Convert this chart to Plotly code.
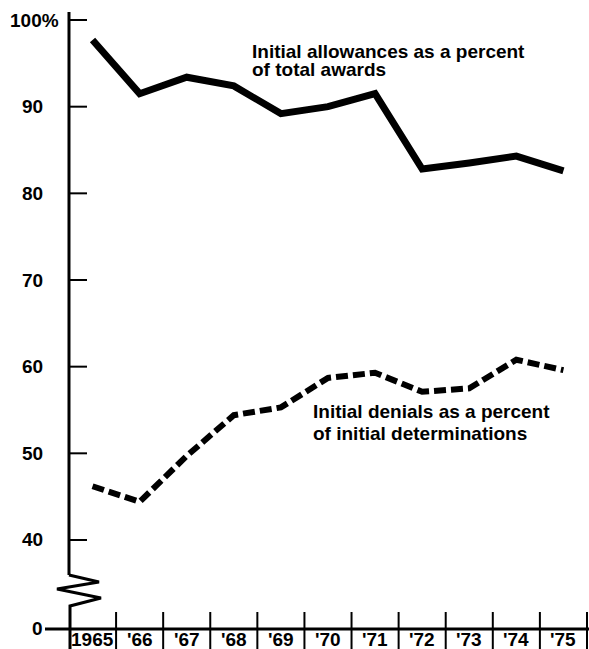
import plotly.graph_objects as go

# ---------------- data ----------------
years = ["1965", "'66", "'67", "'68", "'69", "'70", "'71", "'72", "'73", "'74", "'75"]
allowances_pct = [97.7, 91.5, 93.4, 92.4, 89.2, 90.0, 91.5, 82.8, 83.5, 84.3, 82.6]
denials_pct = [46.2, 44.4, 49.7, 54.4, 55.3, 58.7, 59.3, 57.1, 57.5, 60.8, 59.6]
y_tick_values = [40, 50, 60, 70, 80, 90, 100]
y_tick_labels = ["40", "50", "60", "70", "80", "90", "100%"]

# ---------------- layout geometry ----------------
W, H = 589, 649
ZERO_POS = 29.73          # where the broken axis draws "0"
X_RANGE = [-1.965, 10.543]
Y_RANGE = [27.42, 102.31]

def px2x(px):
    return X_RANGE[0] + px / W * (X_RANGE[1] - X_RANGE[0])

def py2y(py):
    return Y_RANGE[1] - py / H * (Y_RANGE[1] - Y_RANGE[0])

FONT = dict(family="Liberation Sans, Arial, Helvetica, sans-serif", size=19, color="black", weight=700)
idx = list(range(len(years)))

fig = go.Figure()
fig.add_trace(go.Scatter(x=idx, y=allowances_pct, mode="lines",
                         line=dict(color="black", width=7), hoverinfo="skip"))
fig.add_trace(go.Scatter(x=idx, y=denials_pct, mode="lines",
                         line=dict(color="black", width=6, dash="12px,5px"), hoverinfo="skip"))

shapes = []
ax_x = -0.5
# y axis (upper part)
shapes.append(dict(type="line", x0=ax_x, x1=ax_x, y0=py2y(12), y1=py2y(575),
                   line=dict(color="black", width=3)))
# zigzag break
zig = [(69, 575), (99, 582), (57, 589), (101, 598), (70, 606), (70, 649)]
path = "M " + " L ".join(f"{px2x(a)},{py2y(b)}" for a, b in zig)
shapes.append(dict(type="path", path=path, line=dict(color="black", width=3)))
# y ticks
for v in y_tick_values:
    shapes.append(dict(type="line", x0=ax_x, x1=px2x(87), y0=v, y1=v,
                       line=dict(color="black", width=2)))
# baseline
shapes.append(dict(type="line", x0=px2x(45), x1=X_RANGE[1], y0=ZERO_POS, y1=ZERO_POS,
                   line=dict(color="black", width=3)))
# year separators
for i in range(1, len(years) + 1):
    xb = i - 0.5
    shapes.append(dict(type="line", x0=xb, x1=xb, y0=py2y(612), y1=Y_RANGE[0],
                       line=dict(color="black", width=2)))

ann = []
for v, t in zip(y_tick_values, y_tick_labels):
    if t.endswith("%"):
        ann.append(dict(x=8 / W, xref="paper", y=v, yref="y", text=t, showarrow=False,
                        xanchor="left", yanchor="middle", font=FONT))
    else:
        ann.append(dict(x=45 / W, xref="paper", y=v, yref="y", text=t, showarrow=False,
                        xanchor="right", yanchor="middle", font=FONT))
ann.append(dict(x=45 / W, xref="paper", y=ZERO_POS, yref="y", text="0", showarrow=False,
                xanchor="right", yanchor="middle", font=FONT))
for i, t in zip(idx, years):
    ann.append(dict(x=i, xref="x", y=py2y(639), yref="y", text=t, showarrow=False,
                    xanchor="center", yanchor="middle", font=FONT))

labels = [
    ("Initial allowances as a percent", 250, 51.5),
    ("of total awards", 250, 69.5),
    ("Initial denials as a percent", 311, 411.5),
    ("of initial determinations", 311, 433.5),
]
for t, lx, ly in labels:
    ann.append(dict(x=lx / W, xref="paper", y=1 - ly / H, yref="paper", text=t,
                    showarrow=False, xanchor="left", yanchor="middle", font=FONT))

fig.update_layout(
    width=W, height=H,
    margin=dict(l=0, r=0, t=0, b=0),
    paper_bgcolor="white", plot_bgcolor="white",
    showlegend=False,
    xaxis=dict(range=X_RANGE, visible=False, fixedrange=True),
    yaxis=dict(range=Y_RANGE, visible=False, fixedrange=True),
    shapes=shapes, annotations=ann,
)
fig.write_html("out.html", config={"displayModeBar": False},
               post_script="document.body.style.margin='0px';document.body.style.overflow='hidden';")
